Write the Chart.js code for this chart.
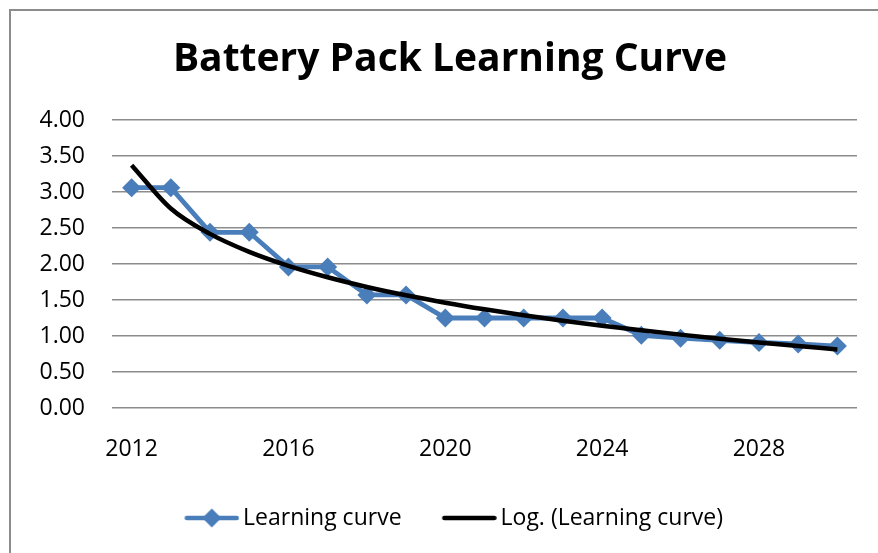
<!DOCTYPE html>
<html><head><meta charset="utf-8">
<script src="https://cdn.jsdelivr.net/npm/chart.js@4/dist/chart.umd.min.js"></script>
<style>
html,body{margin:0;padding:0;background:#fff;overflow:hidden;width:878px;height:553px}
#frame{position:absolute;left:9px;top:9px;width:1000px;height:1000px;border-left:2px solid #8c8c8c;border-top:2px solid #8c8c8c;box-sizing:border-box}
#wrap{position:absolute;left:0;top:0;width:878px;height:553px}
</style></head><body>
<div id="frame"></div>
<div id="wrap"><canvas id="c" width="878" height="553"></canvas></div>
<script>
// ---- data ----
const years = ['2012','2013','2014','2015','2016','2017','2018','2019','2020','2021','2022','2023','2024','2025','2026','2027','2028','2029','2030'];
const xTickLabels = ['2012','2016','2020','2024','2028'];
const learningCurve = [3.06,3.06,2.44,2.44,1.96,1.96,1.57,1.57,1.25,1.25,1.25,1.25,1.25,1.01,0.97,0.94,0.91,0.89,0.86];
const yMin = 0, yMax = 4, yStep = 0.5;
const seriesNames = ['Learning curve','Log. (Learning curve)'];

// logarithmic least-squares trendline derived from the series (as Excel's "Log." trendline)
function logTrend(vals){
  const n = vals.length; let sx=0, sy=0, sxx=0, sxy=0;
  vals.forEach((y,i)=>{ const x=Math.log(i+1); sx+=x; sy+=y; sxx+=x*x; sxy+=x*y; });
  const a = (n*sxy - sx*sy)/(n*sxx - sx*sx);
  const b = (sy - a*sx)/n;
  return vals.map((_,i)=> a*Math.log(i+1) + b);
}
const trend = logTrend(learningCurve);

const BLUE = '#4A7EBB';
const FONT = "'Open Sans'";
const FS = 23;

// legend icon: transparent left part, visible 55px line on the right
function legendIcon(color, withMarker){
  const W = 70, H = 24, L = W - 55;
  const c = document.createElement('canvas');
  c.width = W; c.height = H;
  const g = c.getContext('2d');
  g.strokeStyle = color; g.lineWidth = 4.5; g.lineCap = 'round';
  g.beginPath(); g.moveTo(L + 2.5, H/2); g.lineTo(W - 2.5, H/2); g.stroke();
  if (withMarker){
    const cx = L + 27.5, cy = H/2, r = 9.5;
    g.fillStyle = color;
    g.beginPath(); g.moveTo(cx, cy - r); g.lineTo(cx + r, cy); g.lineTo(cx, cy + r); g.lineTo(cx - r, cy); g.closePath(); g.fill();
  }
  return c;
}

async function draw(){
  try { await Promise.all([document.fonts.load("bold 39px 'Open Sans'"), document.fonts.load("23px 'Open Sans'")]); } catch(e){}
  const icons = [legendIcon(BLUE, true), legendIcon('#000', false)];
  new Chart(document.getElementById('c'), {
    type: 'line',
    data: {
      labels: years,
      datasets: [
        { label: seriesNames[0], data: learningCurve, order: 1,
          borderColor: BLUE, backgroundColor: BLUE, borderWidth: 4.8,
          pointStyle: 'rectRot', pointRadius: 9.5, pointBorderWidth: 0,
          pointBackgroundColor: BLUE, pointBorderColor: BLUE, tension: 0, fill: false },
        { label: seriesNames[1], data: trend, order: 0,
          borderColor: '#000', backgroundColor: '#000', borderWidth: 4.5,
          pointRadius: 0, cubicInterpolationMode: 'monotone', fill: false }
      ]
    },
    options: {
      responsive: false, animation: false, devicePixelRatio: 1,
      layout: { padding: { left: 22, right: 0, top: 0, bottom: 13.5 } },
      plugins: {
        tooltip: { enabled: false },
        title: { display: true, text: 'Battery Pack Learning Curve', color: '#000',
          font: { family: FONT, size: 39, weight: 'bold', lineHeight: 1.2 },
          padding: { top: 36.6, bottom: 36.6 } },
        legend: { position: 'bottom',
          labels: { usePointStyle: true, pointStyleWidth: 54.5, boxHeight: FS, padding: 33,
            color: '#000', font: { family: FONT, size: FS },
            generateLabels: (chart) => seriesNames.map((t,i)=>({
              text: t, pointStyle: icons[i], fillStyle: 'transparent', strokeStyle: 'transparent',
              lineWidth: 0, fontColor: '#000', datasetIndex: i, hidden: false })) } }
      },
      scales: {
        x: { type: 'category', offset: true,
          grid: { display: false, drawTicks: false }, border: { display: false },
          ticks: { autoSkip: false, maxRotation: 0, padding: 28, color: '#000',
            font: { family: FONT, size: FS },
            callback: (v, i) => xTickLabels.includes(years[i]) ? years[i] : '' },
          afterFit: s => { s.height = 65.5; } },
        y: { min: yMin, max: yMax,
          grid: { color: '#8c8c8c', lineWidth: 1.5, drawTicks: false }, border: { display: false },
          ticks: { stepSize: yStep, padding: 27, color: '#000', font: { family: FONT, size: FS },
            callback: v => Number(v).toFixed(2) },
          afterFit: s => { s.width = 90; } },
        yR: { type: 'linear', position: 'right', display: true,
          grid: { display: false, drawTicks: false }, border: { display: false },
          ticks: { display: false },
          afterFit: s => { s.width = 21; } }
      }
    }
  });
}
draw();
</script>
</body></html>
